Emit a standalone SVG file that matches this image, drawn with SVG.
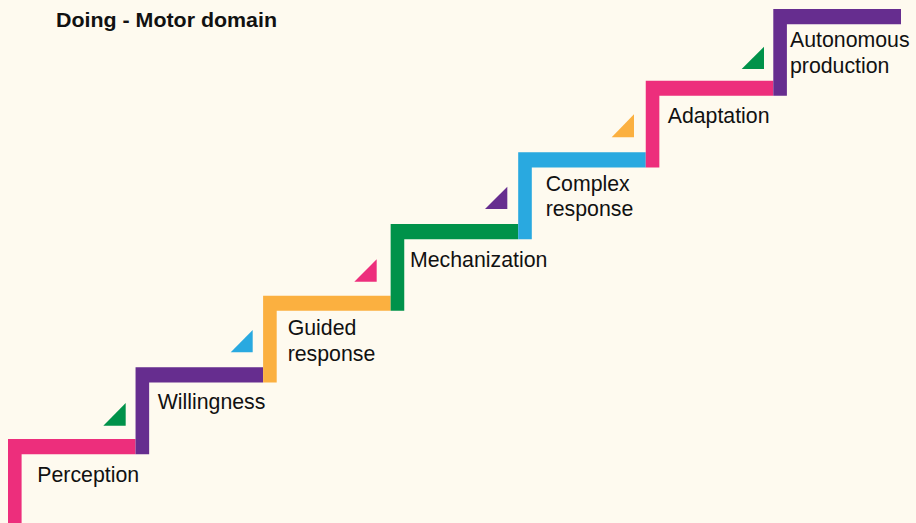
<svg xmlns="http://www.w3.org/2000/svg" width="916" height="523" viewBox="0 0 916 523">
  <style>
    .lbl { font-family: "Liberation Sans", Arial, sans-serif; font-size: 21.3px; fill: #111; }
    .title { font-family: "Liberation Sans", Arial, sans-serif; font-size: 20px; font-weight: bold; fill: #111; }
    .pink { fill: #ED2E7C; }
    .purple { fill: #662D8F; }
    .orange { fill: #FBB040; }
    .green { fill: #00924A; }
    .blue { fill: #29A9E0; }
  </style>
  <rect width="916" height="523" fill="#FEFAEF"/>

  <text class="title" x="56" y="27.3" textLength="221" lengthAdjust="spacingAndGlyphs">Doing - Motor domain</text>

  <!-- staircase: each step is an L-shaped band -->
  <g id="step-perception">
    <path class="pink" d="M8,523 V439 H135.55 V454.2 H21.6 V523 Z"/>
    <text class="lbl" x="37.3" y="481.7">Perception</text>
  </g>
  <g id="step-willingness">
    <path class="purple" d="M135.55,454.2 V367.33 H263.1 V382.53 H149.15 V454.2 Z"/>
    <text class="lbl" x="157.7" y="409.3">Willingness</text>
  </g>
  <g id="step-guided-response">
    <path class="orange" d="M263.1,382.53 V295.67 H390.65 V310.87 H276.7 V382.53 Z"/>
    <text class="lbl" x="287.7" y="335">Guided</text>
    <text class="lbl" x="287.7" y="361">response</text>
  </g>
  <g id="step-mechanization">
    <path class="green" d="M390.65,310.87 V224 H518.2 V239.2 H404.25 V310.87 Z"/>
    <text class="lbl" x="410" y="267.3">Mechanization</text>
  </g>
  <g id="step-complex-response">
    <path class="blue" d="M518.2,239.2 V152.33 H645.75 V167.53 H531.8 V239.2 Z"/>
    <text class="lbl" x="545.7" y="190.7">Complex</text>
    <text class="lbl" x="545.7" y="216">response</text>
  </g>
  <g id="step-adaptation">
    <path class="pink" d="M645.75,167.53 V80.67 H773.3 V95.87 H659.35 V167.53 Z"/>
    <text class="lbl" x="667.7" y="123.3">Adaptation</text>
  </g>
  <g id="step-autonomous-production">
    <path class="purple" d="M773.3,95.87 V9 H901 V24.2 H786.9 V95.87 Z"/>
    <text class="lbl" x="790" y="46.7">Autonomous</text>
    <text class="lbl" x="790" y="73.3">production</text>
  </g>

  <!-- small rising-edge markers beside each riser -->
  <g id="markers">
    <polygon class="green" points="103.3,425.7 125.7,425.7 125.7,403"/>
    <polygon class="blue" points="230.7,352.3 252.7,352.3 252.7,330"/>
    <polygon class="pink" points="354.3,281.7 376.7,281.7 376.7,259.3"/>
    <polygon class="purple" points="485,209 507.3,209 507.3,186.7"/>
    <polygon class="orange" points="611.7,137.3 634,137.3 634,114.3"/>
    <polygon class="green" points="741.7,69 764,69 764,46.7"/>
  </g>
</svg>
